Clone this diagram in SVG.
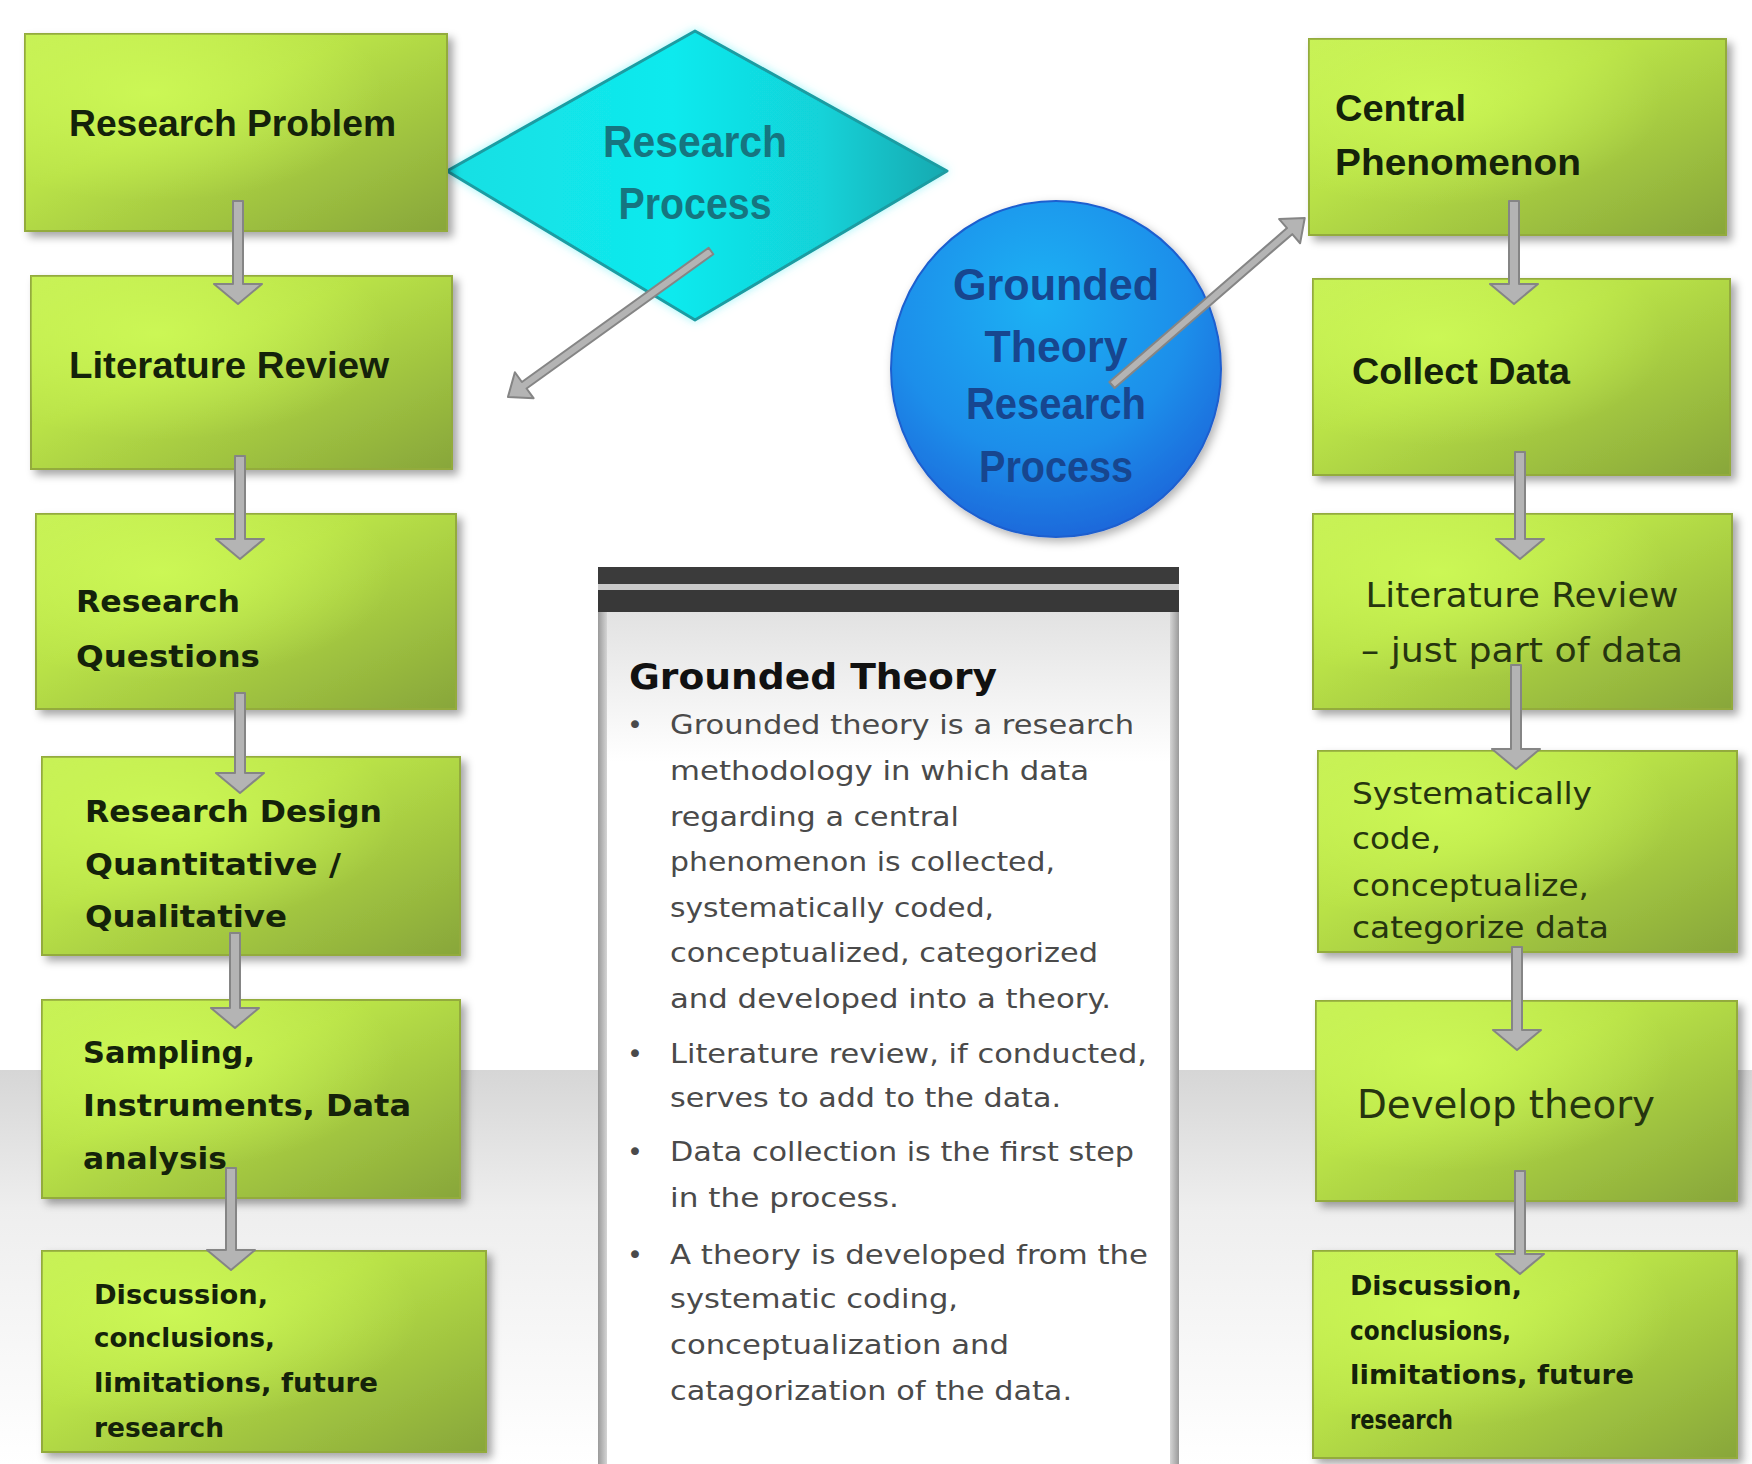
<svg xmlns="http://www.w3.org/2000/svg" xmlns:xlink="http://www.w3.org/1999/xlink" width="1752" height="1464" viewBox="0 0 1752 1464">
  <defs>
    <linearGradient id="floor" x1="0" y1="0" x2="0" y2="1">
      <stop offset="0" stop-color="#d6d6d6"/>
      <stop offset="0.35" stop-color="#eeeeee"/>
      <stop offset="1" stop-color="#ffffff"/>
    </linearGradient>
    <linearGradient id="green" x1="0" y1="0" x2="1" y2="1">
      <stop offset="0" stop-color="#c6ef55"/>
      <stop offset="0.4" stop-color="#b9e247"/>
      <stop offset="1" stop-color="#88a63a"/>
    </linearGradient>
    <radialGradient id="greenGlow" cx="0.3" cy="0.3" r="0.55">
      <stop offset="0" stop-color="#d2ff5a" stop-opacity="0.7"/>
      <stop offset="1" stop-color="#d2ff5a" stop-opacity="0"/>
    </radialGradient>
    <linearGradient id="cyan" x1="0" y1="0" x2="1" y2="0">
      <stop offset="0" stop-color="#14dfe3"/>
      <stop offset="0.45" stop-color="#10eaee"/>
      <stop offset="0.75" stop-color="#12d2d8"/>
      <stop offset="1" stop-color="#15a9b0"/>
    </linearGradient>
    <radialGradient id="blue" cx="0.45" cy="0.3" r="0.75">
      <stop offset="0" stop-color="#1fb2f4"/>
      <stop offset="0.6" stop-color="#1c8eea"/>
      <stop offset="1" stop-color="#1b62d8"/>
    </radialGradient>
    <linearGradient id="panelTop" x1="0" y1="0" x2="0" y2="1">
      <stop offset="0" stop-color="#e2e2e2"/>
      <stop offset="1" stop-color="#ffffff"/>
    </linearGradient>
    <linearGradient id="panelSide" x1="0" y1="0" x2="1" y2="0">
      <stop offset="0" stop-color="#9a9a9a"/>
      <stop offset="1" stop-color="#d4d4d4"/>
    </linearGradient>
    <filter id="shadow" x="-10%" y="-10%" width="125%" height="130%">
      <feDropShadow dx="5" dy="5" stdDeviation="4" flood-color="#000" flood-opacity="0.35"/>
    </filter>
    <filter id="glow" x="-20%" y="-20%" width="140%" height="140%">
      <feDropShadow dx="0" dy="0" stdDeviation="5" flood-color="#5ff0f5" flood-opacity="0.6"/>
    </filter>
    <filter id="soft" x="-10%" y="-10%" width="120%" height="120%">
      <feDropShadow dx="3" dy="4" stdDeviation="5" flood-color="#000" flood-opacity="0.3"/>
    </filter>
  </defs>
  <style>
    .box { fill: url(#green); stroke: #93ab3e; stroke-width: 2; filter: url(#shadow); }
    .hl { fill: url(#greenGlow); }
    .nar { font-family: "Liberation Sans", Arial, sans-serif; font-weight: bold; fill: #14220a; }
    .wide { font-family: "DejaVu Sans", Verdana, sans-serif; font-weight: bold; fill: #14220a; }
    .wideR { font-family: "DejaVu Sans", Verdana, sans-serif; fill: #26350f; }
    .dia { font-family: "Liberation Sans", Arial, sans-serif; font-size: 44px; font-weight: bold; fill: #167580; text-anchor: middle; }
    .circ { font-family: "Liberation Sans", Arial, sans-serif; font-size: 44px; font-weight: bold; fill: #17468f; text-anchor: middle; }
    .title { font-family: "DejaVu Sans", Verdana, sans-serif; font-weight: bold; font-size: 36px; fill: #111; }
    .body { font-family: "DejaVu Sans", Verdana, sans-serif; font-size: 27px; fill: #4a4a4a; }
    .arrow { fill: #b4b4b4; stroke: #858585; stroke-width: 2; stroke-linejoin: round; }
  </style>

  <!-- page background with a grey floor band -->
  <rect x="0" y="0" width="1752" height="1464" fill="#ffffff"/>
  <rect x="0" y="1070" width="1752" height="394" fill="url(#floor)"/>

  <!-- centre text panel -->
  <g id="panel">
    <rect x="598" y="567" width="581" height="897" fill="#ffffff"/>
    <rect x="606" y="612" width="565" height="150" fill="url(#panelTop)"/>
    <rect x="598" y="567" width="9" height="897" fill="url(#panelSide)"/>
    <rect x="1170" y="567" width="9" height="897" fill="url(#panelSide)" transform="rotate(180 1174.5 1015.5)"/>
    <rect x="598" y="567" width="581" height="17" fill="#3b3b3b"/>
    <rect x="598" y="584" width="581" height="6" fill="#c9c9c9"/>
    <rect x="598" y="590" width="581" height="22" fill="#383838"/>
    <text class="title" x="629" y="689" textLength="368" lengthAdjust="spacingAndGlyphs">Grounded Theory</text>
    <g class="body">
      <text x="627" y="734">•</text>
      <text x="670" y="734" textLength="464" lengthAdjust="spacingAndGlyphs">Grounded theory is a research</text>
      <text x="670" y="780" textLength="419" lengthAdjust="spacingAndGlyphs">methodology in which data</text>
      <text x="670" y="826" textLength="289" lengthAdjust="spacingAndGlyphs">regarding a central</text>
      <text x="670" y="871" textLength="385" lengthAdjust="spacingAndGlyphs">phenomenon is collected,</text>
      <text x="670" y="917" textLength="324" lengthAdjust="spacingAndGlyphs">systematically coded,</text>
      <text x="670" y="962" textLength="428" lengthAdjust="spacingAndGlyphs">conceptualized, categorized</text>
      <text x="670" y="1008" textLength="441" lengthAdjust="spacingAndGlyphs">and developed into a theory.</text>
      <text x="627" y="1063">•</text>
      <text x="670" y="1063" textLength="477" lengthAdjust="spacingAndGlyphs">Literature review, if conducted,</text>
      <text x="670" y="1107" textLength="391" lengthAdjust="spacingAndGlyphs">serves to add to the data.</text>
      <text x="627" y="1161">•</text>
      <text x="670" y="1161" textLength="464" lengthAdjust="spacingAndGlyphs">Data collection is the first step</text>
      <text x="670" y="1207" textLength="229" lengthAdjust="spacingAndGlyphs">in the process.</text>
      <text x="627" y="1264">•</text>
      <text x="670" y="1264" textLength="478" lengthAdjust="spacingAndGlyphs">A theory is developed from the</text>
      <text x="670" y="1308" textLength="288" lengthAdjust="spacingAndGlyphs">systematic coding,</text>
      <text x="670" y="1354" textLength="339" lengthAdjust="spacingAndGlyphs">conceptualization and</text>
      <text x="670" y="1400" textLength="402" lengthAdjust="spacingAndGlyphs">catagorization of the data.</text>
    </g>
  </g>

  <!-- Research Process diamond -->
  <g id="research-process">
    <polygon points="447,171 695,31 947,171 695,320" fill="url(#cyan)" stroke="#1b9ca2" stroke-width="3" stroke-linejoin="round" filter="url(#glow)"/>
    <text class="dia" x="695" y="157" textLength="184" lengthAdjust="spacingAndGlyphs">Research</text>
    <text class="dia" x="695" y="219" textLength="153" lengthAdjust="spacingAndGlyphs">Process</text>
  </g>

  <!-- Grounded Theory Research Process circle -->
  <g id="gt-process">
    <ellipse cx="1056" cy="369" rx="165" ry="168" fill="url(#blue)" stroke="#1f5fcf" stroke-width="2" filter="url(#soft)"/>
    <text class="circ" x="1056" y="300" textLength="206" lengthAdjust="spacingAndGlyphs">Grounded</text>
    <text class="circ" x="1056" y="362" textLength="143" lengthAdjust="spacingAndGlyphs">Theory</text>
    <text class="circ" x="1056" y="419" textLength="180" lengthAdjust="spacingAndGlyphs">Research</text>
    <text class="circ" x="1056" y="482" textLength="154" lengthAdjust="spacingAndGlyphs">Process</text>
  </g>

  <!-- left column: general research process -->
  <g id="l-problem">
    <rect class="box" x="25" y="34" width="422" height="197"/>
    <rect class="hl" x="25" y="34" width="422" height="197"/>
    <text class="nar" x="69" y="136" font-size="36" textLength="327" lengthAdjust="spacingAndGlyphs">Research Problem</text>
  </g>
  <g id="l-literature">
    <rect class="box" x="31" y="276" width="421" height="193"/>
    <rect class="hl" x="31" y="276" width="421" height="193"/>
    <text class="nar" x="69" y="378" font-size="36" textLength="320" lengthAdjust="spacingAndGlyphs">Literature Review</text>
  </g>
  <g id="l-questions">
    <rect class="box" x="36" y="514" width="420" height="195"/>
    <rect class="hl" x="36" y="514" width="420" height="195"/>
    <text class="wide" x="76" y="612" font-size="31" textLength="164" lengthAdjust="spacingAndGlyphs">Research</text>
    <text class="wide" x="76" y="667" font-size="31" textLength="184" lengthAdjust="spacingAndGlyphs">Questions</text>
  </g>
  <g id="l-design">
    <rect class="box" x="42" y="757" width="418" height="198"/>
    <rect class="hl" x="42" y="757" width="418" height="198"/>
    <text class="wide" x="85" y="822" font-size="31" textLength="297" lengthAdjust="spacingAndGlyphs">Research Design</text>
    <text class="wide" x="85" y="875" font-size="31" textLength="256" lengthAdjust="spacingAndGlyphs">Quantitative /</text>
    <text class="wide" x="85" y="927" font-size="31" textLength="202" lengthAdjust="spacingAndGlyphs">Qualitative</text>
  </g>
  <g id="l-sampling">
    <rect class="box" x="42" y="1000" width="418" height="198"/>
    <rect class="hl" x="42" y="1000" width="418" height="198"/>
    <text class="wide" x="83" y="1063" font-size="31" textLength="172" lengthAdjust="spacingAndGlyphs">Sampling,</text>
    <text class="wide" x="83" y="1116" font-size="31" textLength="328" lengthAdjust="spacingAndGlyphs">Instruments, Data</text>
    <text class="wide" x="83" y="1169" font-size="31" textLength="144" lengthAdjust="spacingAndGlyphs">analysis</text>
  </g>
  <g id="l-discussion">
    <rect class="box" x="42" y="1251" width="444" height="201"/>
    <rect class="hl" x="42" y="1251" width="444" height="201"/>
    <text class="wide" x="94" y="1304" font-size="27" textLength="174" lengthAdjust="spacingAndGlyphs">Discussion,</text>
    <text class="wide" x="94" y="1347" font-size="27" textLength="181" lengthAdjust="spacingAndGlyphs">conclusions,</text>
    <text class="wide" x="94" y="1392" font-size="27" textLength="284" lengthAdjust="spacingAndGlyphs">limitations, future</text>
    <text class="wide" x="94" y="1437" font-size="27" textLength="130" lengthAdjust="spacingAndGlyphs">research</text>
  </g>

  <!-- right column: grounded theory process -->
  <g id="r-phenomenon">
    <rect class="box" x="1309" y="39" width="417" height="196"/>
    <rect class="hl" x="1309" y="39" width="417" height="196"/>
    <text class="nar" x="1335" y="121" font-size="36" textLength="131" lengthAdjust="spacingAndGlyphs">Central</text>
    <text class="nar" x="1335" y="175" font-size="36" textLength="246" lengthAdjust="spacingAndGlyphs">Phenomenon</text>
  </g>
  <g id="r-collect">
    <rect class="box" x="1313" y="279" width="417" height="196"/>
    <rect class="hl" x="1313" y="279" width="417" height="196"/>
    <text class="nar" x="1352" y="384" font-size="36" textLength="218" lengthAdjust="spacingAndGlyphs">Collect Data</text>
  </g>
  <g id="r-literature">
    <rect class="box" x="1313" y="514" width="419" height="195"/>
    <rect class="hl" x="1313" y="514" width="419" height="195"/>
    <text class="wideR" x="1522" y="607" font-size="33" text-anchor="middle" textLength="313" lengthAdjust="spacingAndGlyphs">Literature Review</text>
    <text class="wideR" x="1522" y="662" font-size="33" text-anchor="middle" textLength="322" lengthAdjust="spacingAndGlyphs">– just part of data</text>
  </g>
  <g id="r-code">
    <rect class="box" x="1318" y="751" width="419" height="201"/>
    <rect class="hl" x="1318" y="751" width="419" height="201"/>
    <text class="wideR" x="1352" y="804" font-size="31" textLength="240" lengthAdjust="spacingAndGlyphs">Systematically</text>
    <text class="wideR" x="1352" y="849" font-size="31" textLength="89" lengthAdjust="spacingAndGlyphs">code,</text>
    <text class="wideR" x="1352" y="896" font-size="31" textLength="237" lengthAdjust="spacingAndGlyphs">conceptualize,</text>
    <text class="wideR" x="1352" y="938" font-size="31" textLength="257" lengthAdjust="spacingAndGlyphs">categorize data</text>
  </g>
  <g id="r-theory">
    <rect class="box" x="1316" y="1001" width="421" height="200"/>
    <rect class="hl" x="1316" y="1001" width="421" height="200"/>
    <text class="wideR" x="1506" y="1118" font-size="39" text-anchor="middle" textLength="298" lengthAdjust="spacingAndGlyphs">Develop theory</text>
  </g>
  <g id="r-discussion">
    <rect class="box" x="1313" y="1251" width="424" height="207"/>
    <rect class="hl" x="1313" y="1251" width="424" height="207"/>
    <text class="wide" x="1350" y="1295" font-size="27" textLength="172" lengthAdjust="spacingAndGlyphs">Discussion,</text>
    <text class="wide" x="1350" y="1340" font-size="27" textLength="161" lengthAdjust="spacingAndGlyphs">conclusions,</text>
    <text class="wide" x="1350" y="1384" font-size="27" textLength="284" lengthAdjust="spacingAndGlyphs">limitations, future</text>
    <text class="wide" x="1350" y="1429" font-size="27" textLength="103" lengthAdjust="spacingAndGlyphs">research</text>
  </g>

  <!-- connectors -->
  <g id="connectors">
    <!-- left column flow -->
    <path class="arrow" d="M233,201 L243,201 L243,284 L262,284 L238,304 L214,284 L233,284 Z"/>
    <path class="arrow" d="M235,456 L245,456 L245,539 L264,539 L240,559 L216,539 L235,539 Z"/>
    <path class="arrow" d="M235,693 L245,693 L245,773 L264,773 L240,793 L216,773 L235,773 Z"/>
    <path class="arrow" d="M230,933 L240,933 L240,1008 L259,1008 L235,1028 L211,1008 L230,1008 Z"/>
    <path class="arrow" d="M226,1168 L236,1168 L236,1250 L255,1250 L231,1270 L207,1250 L226,1250 Z"/>
    <!-- right column flow -->
    <path class="arrow" d="M1509,201 L1519,201 L1519,284 L1538,284 L1514,304 L1490,284 L1509,284 Z"/>
    <path class="arrow" d="M1515,452 L1525,452 L1525,539 L1544,539 L1520,559 L1496,539 L1515,539 Z"/>
    <path class="arrow" d="M1511,665 L1521,665 L1521,749 L1540,749 L1516,769 L1492,749 L1511,749 Z"/>
    <path class="arrow" d="M1512,947 L1522,947 L1522,1030 L1541,1030 L1517,1050 L1493,1030 L1512,1030 Z"/>
    <path class="arrow" d="M1515,1171 L1525,1171 L1525,1254 L1544,1254 L1520,1274 L1496,1254 L1515,1254 Z"/>
    <!-- diamond to left column -->
    <path class="arrow" transform="translate(711,251) rotate(144.3)" d="M0,-4 L230,-4 L230,-16 L250,0 L230,16 L230,4 L0,4 Z"/>
    <!-- circle to right column -->
    <path class="arrow" transform="translate(1112,385) rotate(-40.9)" d="M0,-4 L235,-4 L235,-16 L255,0 L235,16 L235,4 L0,4 Z"/>
  </g>
</svg>
